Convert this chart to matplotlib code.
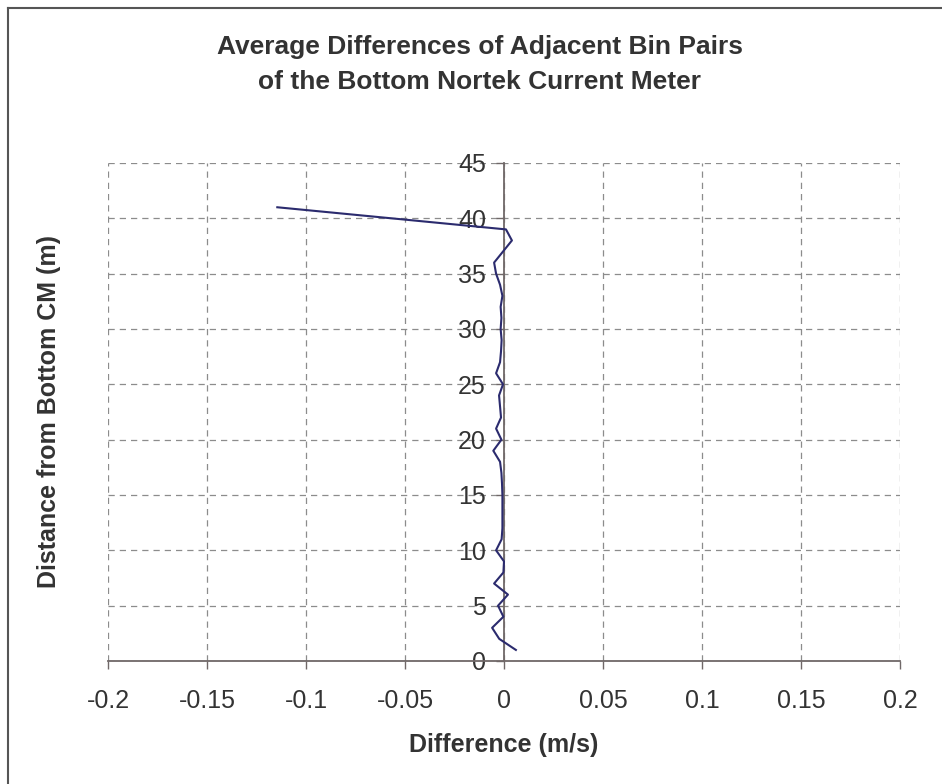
import numpy as np
import matplotlib.pyplot as plt
from matplotlib.lines import Line2D

# bin distance above the bottom current meter (m)
distance = [1, 2, 3, 4, 5, 6, 7, 8, 9, 10,
            11, 12, 13, 14, 15, 16, 17, 18, 19, 20,
            21, 22, 23, 24, 25, 26, 27, 28, 29, 30,
            31, 32, 33, 34, 35, 36, 37, 38, 39, 41]
# average difference of adjacent bin pairs (m/s)
difference = [0.006, -0.0024, -0.006, -0.0003, -0.003, 0.002, -0.005, -0.0003, 0.0, -0.004,
              -0.0012, -0.0008, -0.0008, -0.0008, -0.0008, -0.001, -0.0013, -0.002, -0.0054, -0.0013,
              -0.004, -0.0015, -0.002, -0.0025, -0.0005, -0.004, -0.002, -0.0015, -0.0012, -0.0017,
              -0.0013, -0.0017, -0.0008, -0.002, -0.004, -0.005, -0.0005, 0.004, 0.001, -0.1145]

x_ticks = [-0.2, -0.15, -0.1, -0.05, 0, 0.05, 0.1, 0.15, 0.2]
x_labels = ["-0.2", "-0.15", "-0.1", "-0.05", "0", "0.05", "0.1", "0.15", "0.2"]
y_ticks = [0, 5, 10, 15, 20, 25, 30, 35, 40, 45]

plt.rcParams['font.family'] = ['Liberation Sans', 'DejaVu Sans']
text_color = "#333333"
axis_color = "#706868"

fig = plt.figure(figsize=(9.42, 7.84), dpi=100)
# outer chart border (only top and left show in the reference)
W, H = 942, 784
fig.lines.append(Line2D([8 / W, 1], [1 - 8 / H, 1 - 8 / H], transform=fig.transFigure,
                        color="#555555", linewidth=1.5))
fig.lines.append(Line2D([8 / W, 8 / W], [0, 1 - 8 / H], transform=fig.transFigure,
                        color="#555555", linewidth=1.5))

ax = fig.add_axes([108 / W, 1 - 661 / H, 792 / W, 498 / H])
ax.plot(difference, distance, color="#2b2b6e", linewidth=1.5, zorder=3)

ax.set_xlim(-0.2, 0.2)
ax.set_ylim(0, 45)
ax.set_xticks(x_ticks)
ax.set_xticklabels(x_labels)
ax.set_yticks(y_ticks)

ax.grid(True, color="#8c8c8c", linestyle=(0, (5, 4)), linewidth=0.9)
ax.spines["left"].set_position(("data", 0))
ax.spines["bottom"].set_position(("data", 0))
ax.spines["top"].set_visible(False)
ax.spines["right"].set_visible(False)
for side in ("left", "bottom"):
    ax.spines[side].set_color(axis_color)
    ax.spines[side].set_linewidth(1.3)
ax.tick_params(axis="both", colors=axis_color, labelcolor=text_color, labelsize=18,
               direction="out", length=6, width=1.0)
ax.tick_params(axis="x", pad=14)
ax.tick_params(axis="y", pad=7)

fig.text(504 / W, 1 - 745 / H, "Difference (m/s)", ha="center", va="center",
         fontsize=18, fontweight="bold", color=text_color)
fig.text(49 / W, 1 - 412 / H, "Distance from Bottom CM (m)", rotation=90,
         ha="center", va="center", fontsize=18, fontweight="bold", color=text_color)
fig.text(480 / W, 1 - 47 / H, "Average Differences of Adjacent Bin Pairs",
         ha="center", va="center", fontsize=19, fontweight="bold", color=text_color)
fig.text(480 / W, 1 - 82 / H, "of the Bottom Nortek Current Meter",
         ha="center", va="center", fontsize=19, fontweight="bold", color=text_color)

fig.savefig("out.png", dpi=100)
